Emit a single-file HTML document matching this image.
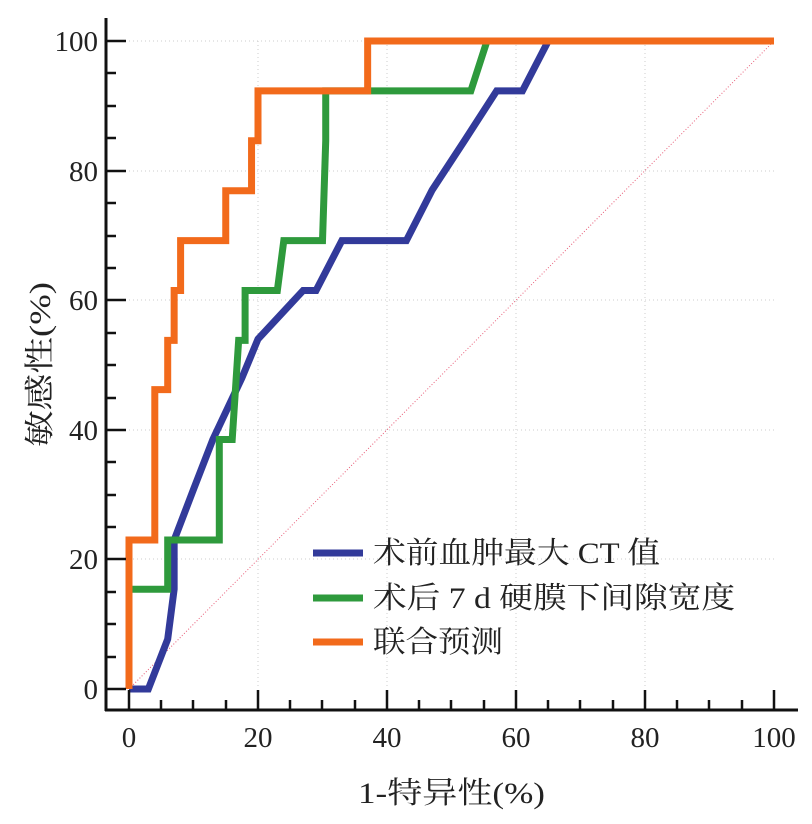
<!DOCTYPE html>
<html><head><meta charset="utf-8"><style>
body{margin:0;background:#fff}
text{font-family:"Liberation Serif","Noto Serif CJK SC",serif;fill:#222}
</style></head><body>
<svg width="812" height="819" viewBox="0 0 812 819" xmlns="http://www.w3.org/2000/svg">
<g stroke="#ccc" stroke-width="1" stroke-dasharray="1,3">
<line x1="129" y1="41" x2="774" y2="41"/><line x1="129" y1="171" x2="774" y2="171"/><line x1="129" y1="300" x2="774" y2="300"/><line x1="129" y1="430" x2="774" y2="430"/><line x1="129" y1="559" x2="774" y2="559"/>
<line x1="258" y1="41" x2="258" y2="689"/><line x1="387" y1="41" x2="387" y2="689"/><line x1="516" y1="41" x2="516" y2="689"/><line x1="645" y1="41" x2="645" y2="689"/>
</g>
<g transform="translate(129,689) scale(6.45,-6.48)" fill="none" stroke-linejoin="miter">
<line x1="0" y1="0" x2="100" y2="100" stroke="#e8607a" stroke-width="1" stroke-dasharray="1,2" vector-effect="non-scaling-stroke"/>
<polyline vector-effect="non-scaling-stroke" stroke="#323a9a" stroke-width="7" points="0,0 3,0 6,7.7 7,15.4 7,23 10,30.8 13,38.5 17.5,48 20,54 27,61.5 29,61.5 33,69.2 43,69.2 47,77 52,84.6 57,92.3 61,92.3 65,100 100,100"/>
<polyline vector-effect="non-scaling-stroke" stroke="#2e9a3c" stroke-width="7" points="0,15.4 6,15.4 6,23 14,23 14,38.5 16,38.5 17,53.8 18,53.8 18,61.5 23,61.5 24,69.2 30,69.2 30.5,84.6 30.5,92.3 53,92.3 55.5,100 100,100"/>
<polyline vector-effect="non-scaling-stroke" stroke="#f26a1b" stroke-width="7" points="0,0 0,23 4,23 4,46.2 6,46.2 6,53.8 7,53.8 7,61.5 8,61.5 8,69.2 15,69.2 15,76.9 19,76.9 19,84.6 20,84.6 20,92.3 37,92.3 37,100 100,100"/>
</g>
<g stroke="#111" stroke-width="3">
<line x1="106" y1="18" x2="106" y2="711"/><line x1="105" y1="710" x2="798" y2="710"/>
</g>
<g stroke="#111" stroke-width="2.5">
<path d="M106 41h20M106 171h20M106 300h20M106 430h20M106 559h20M106 689h20"/>
<path d="M106 73h10M106 106h10M106 138h10M106 203h10M106 236h10M106 268h10M106 333h10M106 365h10M106 398h10M106 462h10M106 495h10M106 527h10M106 592h10M106 624h10M106 657h10"/>
<path d="M129 710v-20M258 710v-20M387 710v-20M516 710v-20M645 710v-20M774 710v-20"/>
<path d="M161 710v-10M193 710v-10M226 710v-10M290 710v-10M322 710v-10M355 710v-10M419 710v-10M451 710v-10M484 710v-10M548 710v-10M580 710v-10M613 710v-10M677 710v-10M709 710v-10M742 710v-10"/>
</g>
<g font-size="29" text-anchor="end">
<text x="98" y="51">100</text><text x="98" y="181">80</text><text x="98" y="310">60</text><text x="98" y="440">40</text><text x="98" y="569">20</text><text x="98" y="699">0</text>
</g>
<g font-size="29" text-anchor="middle">
<text x="129" y="747">0</text><text x="258" y="747">20</text><text x="387" y="747">40</text><text x="516" y="747">60</text><text x="645" y="747">80</text><text x="774" y="747">100</text>
</g>
<g font-size="30">
<text x="358" y="803" textLength="187" lengthAdjust="spacingAndGlyphs">1-特异性(%)</text>
<text transform="translate(50,447) rotate(-90)" textLength="165" lengthAdjust="spacingAndGlyphs">敏感性(%)</text>
</g>
<g stroke-width="7">
<line x1="313" y1="553" x2="363" y2="553" stroke="#323a9a"/>
<line x1="313" y1="598" x2="363" y2="598" stroke="#2e9a3c"/>
<line x1="313" y1="642" x2="363" y2="642" stroke="#f26a1b"/>
</g>
<g font-size="30">
<text x="373" y="563" textLength="287" lengthAdjust="spacingAndGlyphs">术前血肿最大 CT 值</text>
<text x="373" y="608" textLength="362" lengthAdjust="spacingAndGlyphs">术后 7 d 硬膜下间隙宽度</text>
<text x="373" y="652" textLength="130" lengthAdjust="spacingAndGlyphs">联合预测</text>
</g>
</svg>
</body></html>
